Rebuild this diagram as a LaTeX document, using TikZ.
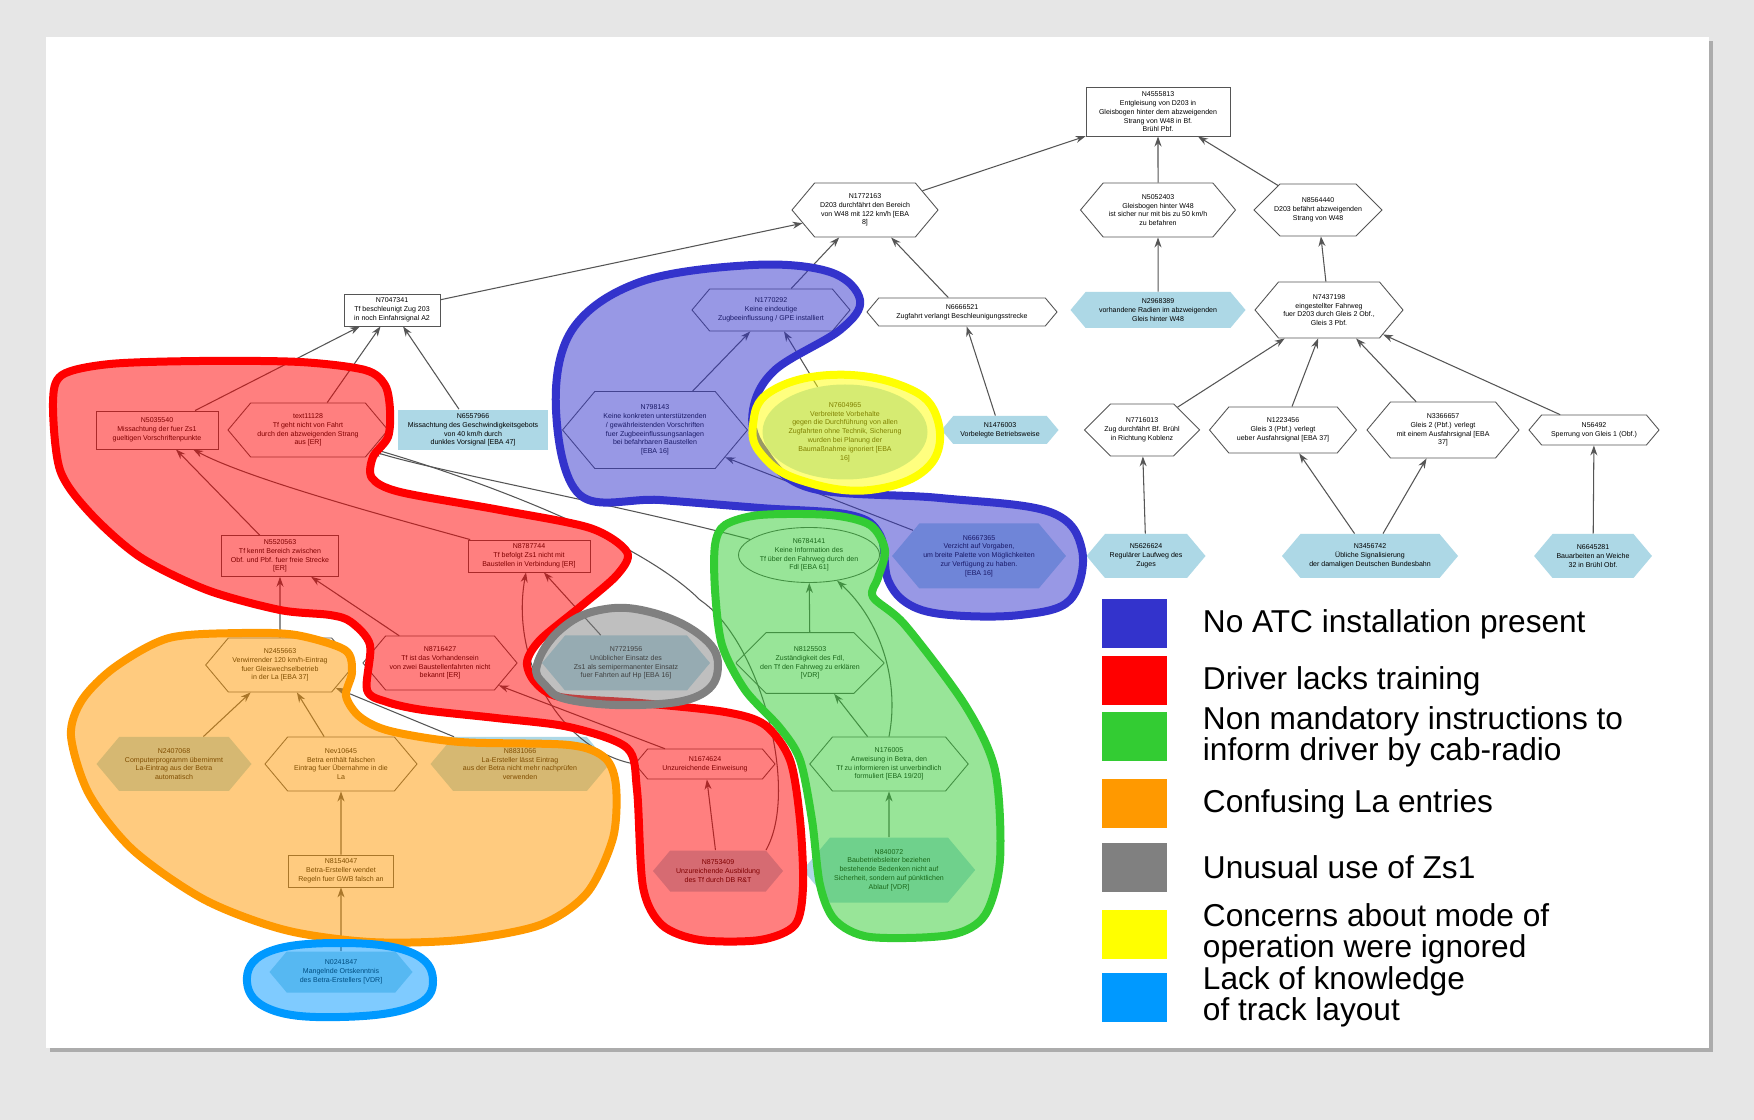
\documentclass[tikz,border=0pt]{standalone}
\usepackage{fontspec}
\setmainfont{Liberation Sans}
\usetikzlibrary{shapes.geometric,shapes.symbols,shapes.misc,arrows.meta,positioning}

\definecolor{atcblue}{RGB}{51,51,204}
\definecolor{lackred}{RGB}{255,0,0}
\definecolor{instgreen}{RGB}{51,204,51}
\definecolor{laorange}{RGB}{255,153,0}
\definecolor{zsgray}{RGB}{128,128,128}
\definecolor{modeyellow}{RGB}{255,255,0}
\definecolor{trackcyan}{RGB}{0,153,255}
\definecolor{leafblue}{RGB}{173,216,230}
\definecolor{edgegray}{RGB}{85,85,85}
\definecolor{backgr}{RGB}{230,230,230}

\newcommand{\nodefont}{\fontsize{2}{2.5}\selectfont}
\newcommand{\legfont}{\fontsize{9}{8.8}\selectfont}

\tikzset{
  box/.style={draw=edgegray, fill=white, line width=0.25pt, inner sep=0.4mm, align=center, font=\nodefont},
  hexa/.style={box, shape=signal, signal to=east and west, signal pointer angle=100},
  octa/.style={box, shape=chamfered rectangle, chamfered rectangle xsep=2mm, chamfered rectangle ysep=1mm},
  oval/.style={box, shape=ellipse, inner sep=0pt},
  leaf/.style={fill=leafblue, draw=none},
  sz/.style 2 args={minimum width=#1, minimum height=#2},
  link/.style={draw=edgegray, line width=0.3pt, -{Stealth[length=1mm,width=0.7mm]}},
  region/.style={draw=#1, fill=#1, fill opacity=0.5, line width=0.8mm, line join=round},
  legbox/.style={minimum width=6.5mm, minimum height=4.9mm, inner sep=0pt},
  legtext/.style={anchor=west, inner sep=0pt, align=left, font=\legfont},
}

\begin{document}
\begin{tikzpicture}[x=0.1mm, y=-0.1mm]
    % Backdrop and panel
    \fill[backgr] (0,0) rectangle (1754,1120);
    \useasboundingbox (0,0) rectangle (1754,1120);
    \fill[gray!65] (50,41) rectangle (1713,1052);
    \fill[white] (46,37) rectangle (1709,1048);

    % Top of the tree
    \node[box, sz={14.4mm}{4.7mm}] (n4555813) at (1158,112) {N4555813\\Entgleisung von D203 in\\Gleisbogen hinter dem abzweigenden\\Strang von W48 in Bf.\\Brühl Pbf.};
    \node[hexa, sz={15.5mm}{5.4mm}] (n5052403) at (1158,210) {N5052403\\Gleisbogen hinter W48\\ist sicher nur mit bis zu 50 km/h\\zu befahren};
    \node[octa, sz={12.7mm}{4.4mm}] (n8564440) at (1318,210) {N8564440\\D203 befährt abzweigenden\\Strang von W48};
    \node[hexa, sz={14.6mm}{5.4mm}] (n1772163) at (865,210) {N1772163\\D203 durchfährt den Bereich\\von W48 mit 122 km/h [EBA\\8]};
    \node[hexa, sz={19mm}{2.8mm}] (n6666521) at (962,312) {N6666521\\Zugfahrt verlangt Beschleunigungsstrecke};
    \node[box, sz={9.6mm}{3mm}] (n7047341) at (392,310) {N7047341\\Tf beschleunigt Zug 203\\in noch Einfahrsignal A2};
    \node[box, leaf, sz={15mm}{3.8mm}] (n6557966) at (473,430) {N6557966\\Missachtung des Geschwindigkeitsgebots\\von 40 km/h durch\\dunkles Vorsignal [EBA 47]};

    % Right branch
    \node[hexa, leaf, sz={17.5mm}{3.6mm}] (n2968389) at (1158,310) {N2968389\\vorhandene Radien im abzweigenden\\Gleis hinter W48};
    \node[hexa, sz={14.8mm}{5.6mm}] (n7437198) at (1329,310) {N7437198\\eingestellter Fahrweg\\fuer D203 durch Gleis 2 Obf.,\\Gleis 3 Pbf.};
    \node[octa, sz={10.4mm}{4.6mm}] (n7716013) at (1142,430) {N7716013\\Zug durchfährt Bf. Brühl\\in Richtung Koblenz};
    \node[hexa, sz={14.7mm}{4.6mm}] (n1223456) at (1283,430) {N1223456\\Gleis 3 (Pbf.) verlegt\\ueber Ausfahrsignal [EBA 37]};
    \node[hexa, sz={15.2mm}{5.6mm}] (n3366657) at (1443,430) {N3366657\\Gleis 2 (Pbf.) verlegt\\mit einem Ausfahrsignal [EBA\\37]};
    \node[hexa, sz={13mm}{3mm}] (n56492) at (1594,430) {N56492\\Sperrung von Gleis 1 (Obf.)};
    \node[hexa, leaf, sz={11.7mm}{2.8mm}] (n1476003) at (1000,430) {N1476003\\Vorbelegte Betriebsweise};
    \node[hexa, leaf, sz={11.9mm}{4.4mm}] (n5626624) at (1146,556) {N5626624\\Regulärer Laufweg des\\Zuges};
    \node[hexa, leaf, sz={17.6mm}{4.4mm}] (n3456742) at (1370,556) {N3456742\\Übliche Signalisierung\\der damaligen Deutschen Bundesbahn};
    \node[hexa, leaf, sz={11.6mm}{4.4mm}] (n6645281) at (1593,556) {N6645281\\Bauarbeiten an Weiche\\32 in Brühl Obf.};

    % Blue group
    \node[hexa, sz={15.8mm}{4.2mm}] (n1770292) at (771,310) {N1770292\\Keine eindeutige\\Zugbeeinflussung / GPE installiert};
    \node[hexa, sz={18.5mm}{7.7mm}] (n798143) at (655,430) {N798143\\Keine konkreten unterstützenden\\/ gewährleistenden Vorschriften\\fuer Zugbeeinflussungsanlagen\\bei befahrbaren Baustellen\\{}[EBA 16]};
    \node[oval, leaf, sz={16.5mm}{9.5mm}] (n7604965) at (845,432) {N7604965\\Verbreitete Vorbehalte\\gegen die Durchführung von allen\\Zugfahrten ohne Technik, Sicherung\\wurden bei Planung der\\Baumaßnahme ignoriert [EBA\\16]};
    \node[hexa, leaf, sz={16.8mm}{6.5mm}] (n6667365) at (979,556) {N6667365\\Verzicht auf Vorgaben,\\um breite Palette von Möglichkeiten\\zur Verfügung zu haben.\\{}[EBA 16]};

    % Green group
    \node[oval, sz={14.1mm}{5.5mm}] (n6784141) at (809,555) {N6784141\\Keine Information des\\Tf über den Fahrweg durch den\\Fdl [EBA 61]};
    \node[octa, sz={14.6mm}{5.4mm}] (n8125503) at (810,663) {N8125503\\Zuständigkeit des Fdl,\\den Tf den Fahrweg zu erklären\\{}[VDR]};
    \node[hexa, sz={15.8mm}{5.4mm}] (n176005) at (889,764) {N176005\\Anweisung in Betra, den\\Tf zu informieren ist unverbindlich\\formuliert [EBA 19/20]};
    \node[hexa, leaf, sz={14.2mm}{6.5mm}] (n840072) at (889,870) {N840072\\Baubetriebsleiter beziehen\\bestehende Bedenken nicht auf\\Sicherheit, sondern auf pünktlichen\\Ablauf [VDR]};

    % Red group
    \node[box, sz={12.2mm}{3.8mm}] (n5035540) at (157,430) {N5035540\\Missachtung der fuer Zs1\\gueltigen Vorschriftenpunkte};
    \node[hexa, sz={16mm}{5.4mm}] (t11128) at (308,430) {text11128\\Tf geht nicht von Fahrt\\durch den abzweigenden Strang\\aus [ER]};
    \node[box, sz={11.7mm}{3.8mm}] (n5520563) at (280,556) {N5520563\\Tf kennt Bereich zwischen\\Obf. und Pbf. fuer freie Strecke\\{}[ER]};
    \node[box, sz={12.2mm}{3mm}] (n8787744) at (529,556) {N8787744\\Tf befolgt Zs1 nicht mit\\Baustellen in Verbindung [ER]};
    \node[hexa, sz={14mm}{5.4mm}] (n8716427) at (440,663) {N8716427\\Tf ist das Vorhandensein\\von zwei Baustellenfahrten nicht\\bekannt [ER]};
    \node[hexa, sz={14mm}{3mm}] (n1674624) at (705,764) {N1674624\\Unzureichende Einweisung};
    \node[hexa, leaf, sz={13mm}{4.1mm}] (n8753409) at (718,871) {N8753409\\Unzureichende Ausbildung\\des Tf durch DB R\&T};

    % Gray group
    \node[hexa, leaf, sz={16.8mm}{5.5mm}] (n7721956) at (626,663) {N7721956\\Unüblicher Einsatz des\\Zs1 als semipermanenter Einsatz\\fuer Fahrten auf Hp [EBA 16]};

    % Orange group
    \node[hexa, sz={14.6mm}{5.4mm}] (n2455663) at (280,665) {N2455663\\Verwirrender 120 km/h-Eintrag\\fuer Gleiswechselbetrieb\\in der La [EBA 37]};
    \node[hexa, leaf, sz={15.5mm}{5.4mm}] (n2407068) at (174,764) {N2407068\\Computerprogramm übernimmt\\La-Eintrag aus der Betra\\automatisch};
    \node[hexa, sz={15.2mm}{5.4mm}] (nev10645) at (341,764) {Nev10645\\Betra enthält falschen\\Eintrag fuer Übernahme in die\\La};
    \node[hexa, leaf, sz={17.9mm}{5.4mm}] (n8831066) at (520,764) {N8831066\\La-Ersteller lässt Eintrag\\aus der Betra nicht mehr nachprüfen\\verwenden};
    \node[box, sz={10.5mm}{3mm}] (n8154047) at (341,871) {N8154047\\Betra-Ersteller wendet\\Regeln fuer GWB falsch an};

    % Cyan group
    \node[hexa, leaf, sz={14.3mm}{4.1mm}] (n0241847) at (341,972) {N0241847\\Mangelnde Ortskenntnis\\des Betra-Erstellers [VDR]};

    % Connectors
    \draw[link] (n1772163) -- (n4555813);
    \draw[link] (n5052403) -- (n4555813);
    \draw[link] (n8564440) -- (n4555813);
    \draw[link] (n2968389) -- (n5052403);
    \draw[link] (n7437198) -- (n8564440);
    \draw[link] (n7716013) -- (n7437198);
    \draw[link] (n1223456) -- (n7437198);
    \draw[link] (n3366657) -- (n7437198);
    \draw[link] (n56492) -- (n7437198);
    \draw[link] (n5626624) -- (n7716013);
    \draw[link] (n3456742) -- (n1223456);
    \draw[link] (n3456742) -- (n3366657);
    \draw[link] (n6645281) -- (n56492);
    \draw[link] (n7047341) -- (n1772163);
    \draw[link] (n1770292) -- (n1772163);
    \draw[link] (n6666521) -- (n1772163);
    \draw[link] (n1476003) -- (n6666521);
    \draw[link] (n798143) -- (n1770292);
    \draw[link] (n7604965) -- (n1770292);
    \draw[link] (n6667365) -- (n798143);
    \draw[link] (n5035540) -- (n7047341);
    \draw[link] (t11128) -- (n7047341);
    \draw[link] (n6557966) -- (n7047341);
    \draw[link] (n5520563) -- (n5035540);
    \draw[link] (n8787744) .. controls (400,520) and (250,480) .. (n5035540);
    \draw[link] (n6784141) .. controls (620,505) and (430,470) .. (t11128);
    \draw[link] (n8753409.north east) .. controls (800,790) and (760,640) .. (700,600) .. controls (640,540) and (480,480) .. (t11128);
    \draw[link] (n1674624.west) .. controls (560,750) and (510,660) .. (n8787744);
    \draw[link] (n1674624) -- (n8716427);
    \draw[link] (n7721956) -- (n8787744);
    \draw[link] (n8753409) -- (n1674624);
    \draw[link] (n2455663) -- (n5520563);
    \draw[link] (n8716427) -- (n5520563);
    \draw[link] (n2407068) -- (n2455663);
    \draw[link] (nev10645) -- (n2455663);
    \draw[link] (n8831066) -- (n2455663);
    \draw[link] (n8154047) -- (nev10645);
    \draw[link] (n0241847) -- (n8154047);
    \draw[link] (n8125503) -- (n6784141);
    \draw[link] (n176005.north) .. controls (900,680) and (880,620) .. (n6784141);
    \draw[link] (n176005) -- (n8125503);
    \draw[link] (n840072) -- (n176005);

    % Highlighted groups
    \draw[region=atcblue] plot[smooth cycle, tension=0.6] coordinates {(556,410) (572,330) (640,282) (753,265) (830,272) (860,300) (840,330) (775,370) (753,410) (762,448) (810,488) (940,498) (1050,512) (1082,550) (1070,600) (1020,615) (950,615) (910,605) (888,580) (880,535) (850,515) (760,508) (660,500) (580,495)};
    \draw[region=modeyellow] plot[smooth cycle, tension=0.7] coordinates {(753,425) (770,392) (830,375) (900,385) (936,415) (930,465) (870,490) (800,480) (762,455)};
    \draw[region=lackred] plot[smooth cycle, tension=0.5] coordinates {(53,403) (62,375) (110,364) (200,361) (300,362) (365,370) (385,385) (390,410) (388,437) (373,457) (372,478) (400,492) (500,510) (590,528) (627,552) (617,575) (580,607) (540,640) (527,662) (535,682) (560,697) (640,703) (725,712) (765,725) (790,760) (800,820) (803,887) (795,925) (760,940) (700,940) (662,925) (643,887) (637,790) (627,748) (569,727) (496,718) (423,710) (387,702) (367,690) (370,645) (351,622) (330,615) (280,610) (207,590) (140,557) (90,513) (60,470)};
    \draw[region=zsgray] plot[smooth cycle, tension=0.7] coordinates {(537,665) (560,630) (600,610) (650,612) (700,635) (718,665) (700,695) (640,705) (570,700) (545,685)};
    \draw[region=instgreen] plot[smooth cycle, tension=0.5] coordinates {(715,545) (725,525) (760,515) (830,515) (870,525) (885,550) (878,578) (873,597) (905,625) (965,705) (995,770) (1000,860) (985,915) (950,935) (870,937) (835,920) (820,885) (812,820) (800,760) (780,728) (745,690) (722,645) (715,590)};
    \draw[region=laorange] plot[smooth cycle, tension=0.5] coordinates {(71,736) (82,700) (115,667) (169,638) (242,633) (296,635) (345,650) (352,672) (346,696) (360,717) (390,731) (460,742) (569,745) (605,758) (616,786) (613,838) (587,893) (540,925) (460,940) (370,942) (285,930) (205,900) (133,850) (89,794)};
    \draw[region=trackcyan] plot[smooth cycle, tension=0.7] coordinates {(247,982) (268,952) (340,943) (410,952) (433,980) (412,1007) (340,1017) (272,1010)};

    % Legend
    \node[legbox, fill=atcblue] (katc) at (1134,624) {};
    \node[legtext, right=3.5mm of katc] (latc) {No ATC installation present};
    \node[legbox, fill=lackred] (klack) at (1134,681) {};
    \node[legtext, right=3.5mm of klack] (llack) {Driver lacks training};
    \node[legbox, fill=instgreen] (kinst) at (1134,737) {};
    \node[legtext, right=3.5mm of kinst] (linst) {Non mandatory instructions to\\inform driver by cab-radio};
    \node[legbox, fill=laorange] (kla) at (1134,804) {};
    \node[legtext, right=3.5mm of kla] (lla) {Confusing La entries};
    \node[legbox, fill=zsgray] (kzs) at (1134,867) {};
    \node[legtext, right=3.5mm of kzs] (lzs) {Unusual use of Zs1};
    \node[legbox, fill=modeyellow] (kmode) at (1134,934) {};
    \node[legtext, right=3.5mm of kmode] (lmode) {Concerns about mode of\\operation were ignored};
    \node[legbox, fill=trackcyan] (ktrack) at (1134,997) {};
    \node[legtext, right=3.5mm of ktrack] (ltrack) {Lack of knowledge\\of track layout};
\end{tikzpicture}
\end{document}
